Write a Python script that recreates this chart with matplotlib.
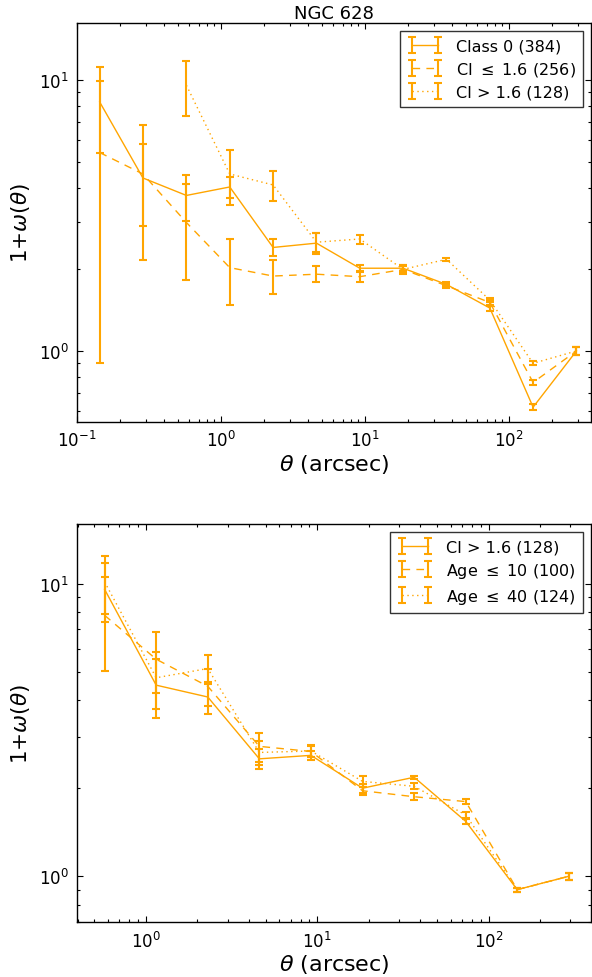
import matplotlib
matplotlib.use("Agg")
import matplotlib.pyplot as plt
from matplotlib.ticker import NullFormatter, LogLocator

plt.rcParams["mathtext.fontset"] = "dejavusans"
plt.rcParams["font.family"] = "DejaVu Sans"

# angular bins (arcsec)
theta = [0.1437, 0.287, 0.575, 1.15, 2.30, 4.60, 9.20, 18.4, 36.8, 73.6, 147.0, 294.0]

# NGC 628, top panel
class0 = [8.30, 4.35, 3.75, 4.03, 2.41, 2.50, 2.02, 2.02, 1.76, 1.44, 0.62, 1.00]
class0_err = [2.9, 1.46, 0.72, 0.35, 0.17, 0.22, 0.05, 0.05, 0.03, 0.03, 0.015, 0.03]

ci_low = [5.40, 4.50, 2.98, 2.03, 1.89, 1.92, 1.88, 2.00, 1.74, 1.51, 0.765, 1.00]
ci_low_err = [4.5, 2.34, 1.15, 0.55, 0.27, 0.13, 0.08, 0.05, 0.03, 0.03, 0.015, 0.03]

# CI > 1.6 starts at the third bin
theta_hi = theta[2:]
ci_high = [9.57, 4.50, 4.10, 2.52, 2.59, 2.00, 2.18, 1.54, 0.90, 1.00]
ci_high_err = [2.2, 1.03, 0.52, 0.20, 0.10, 0.07, 0.03, 0.03, 0.015, 0.03]

# bottom panel: age cuts
age10 = [7.80, 5.52, 4.46, 2.78, 2.67, 1.96, 1.87, 1.80, 0.90, 1.00]
age10_err = [2.78, 1.30, 0.65, 0.32, 0.12, 0.06, 0.05, 0.04, 0.015, 0.03]

age40 = [10.15, 4.77, 5.13, 2.65, 2.68, 2.11, 2.03, 1.62, 0.90, 1.00]
age40_err = [2.28, 1.05, 0.58, 0.25, 0.12, 0.09, 0.05, 0.04, 0.015, 0.03]

col = "#FFA500"
dash = (0, (5.5, 4.5))
dot = (0, (1, 2.5))
eb_kw = dict(color=col, lw=1.0, elinewidth=1.5, capsize=3, capthick=1.5)


def style_axis(ax):
    ax.set_xscale("log")
    ax.set_yscale("log")
    ax.tick_params(which="both", direction="in", top=True, right=True,
                   labelsize=12, width=0.8)
    ax.tick_params(which="major", length=4.5, pad=6)
    ax.tick_params(which="minor", length=2.5)
    ax.yaxis.set_minor_formatter(NullFormatter())
    ax.xaxis.set_minor_formatter(NullFormatter())
    ax.xaxis.set_minor_locator(LogLocator(base=10, subs=range(2, 10)))
    for s in ax.spines.values():
        s.set_linewidth(1.0)
    ax.set_xlabel(r"$\theta$ (arcsec)", fontsize=16, labelpad=1)
    ax.set_ylabel(r"1+$\omega(\theta)$", fontsize=15.5, labelpad=5)


fig = plt.figure(figsize=(5.92, 9.78), dpi=100)
fig.patch.set_facecolor("white")

ax1 = fig.add_axes([77 / 592, 1 - 422.7 / 978, 514 / 592, 398.4 / 978])
ax2 = fig.add_axes([77 / 592, 1 - 923.3 / 978, 514 / 592, 398.3 / 978])

# --- top panel ---
ax1.errorbar(theta, class0, yerr=class0_err, ls="-", label="Class 0 (384)", **eb_kw)
ax1.errorbar(theta, ci_low, yerr=ci_low_err, ls=dash,
             label=r"CI $\leq$ 1.6 (256)", **eb_kw)
ax1.errorbar(theta_hi, ci_high, yerr=ci_high_err, ls=dot,
             label="CI > 1.6 (128)", **eb_kw)
style_axis(ax1)
ax1.set_xlim(0.1, 371)
ax1.set_ylim(0.548, 16.2)
ax1.set_title("NGC 628", fontsize=13, pad=4)

# --- bottom panel ---
ax2.errorbar(theta_hi, ci_high, yerr=ci_high_err, ls="-",
             label="CI > 1.6 (128)", **eb_kw)
ax2.errorbar(theta_hi, age10, yerr=age10_err, ls=dash,
             label=r"Age $\leq$ 10 (100)", **eb_kw)
ax2.errorbar(theta_hi, age40, yerr=age40_err, ls=dot,
             label=r"Age $\leq$ 40 (124)", **eb_kw)
style_axis(ax2)
ax2.set_xlim(0.397, 396)
ax2.set_ylim(0.696, 16.0)

for ax in (ax1, ax2):
    leg = ax.legend(loc="upper right", fontsize=11.5, numpoints=2,
                    handlelength=2.2, fancybox=False, borderaxespad=0.5,
                    handletextpad=0.85, labelspacing=0.42, borderpad=0.45)
    leg.get_frame().set_edgecolor("black")
    leg.get_frame().set_linewidth(1.0)

fig.savefig("out.png", dpi=100, facecolor="white")
